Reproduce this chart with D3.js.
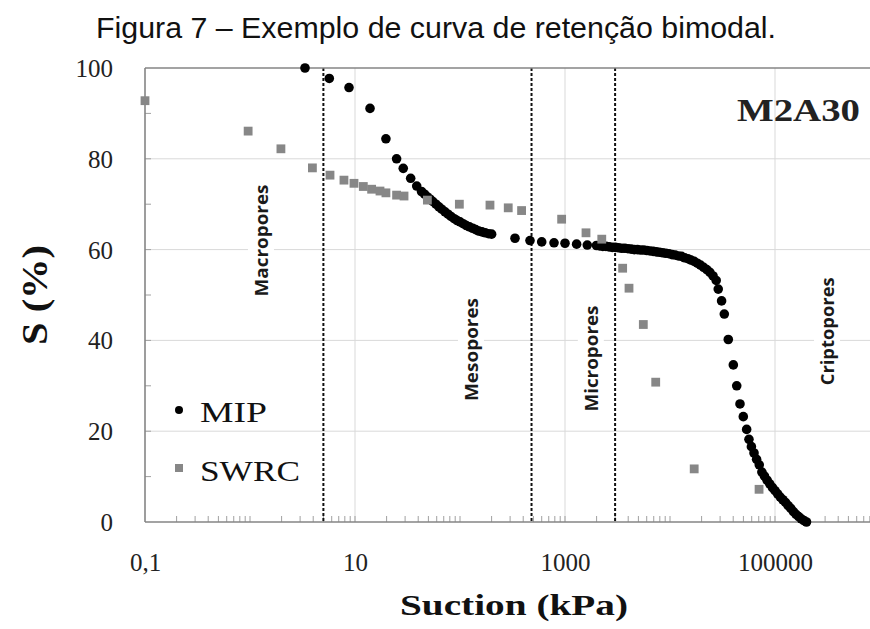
<!DOCTYPE html>
<html><head><meta charset="utf-8">
<script src="https://cdn.jsdelivr.net/npm/d3@7"></script>
<style>html,body{margin:0;padding:0;background:#fff;overflow:hidden}</style>
</head><body>
<svg id="chart" width="870" height="629"></svg>
<script>
// ---- data ----
const titleText = "Figura 7 – Exemplo de curva de retenção bimodal.";
const xTickValues = [0.1, 10, 1000, 100000];
const xTickLabels = ["0,1", "10", "1000", "100000"];
const yTickValues = [0, 20, 40, 60, 80, 100];
const poreLimits = [5, 480, 3000];
const poreNames = ["Macropores", "Mesopores", "Micropores", "Criptopores"];
const poreLabelAt = [[1.3, 62], [130, 38], [1800, 36], [320000, 42]];

const mipSuction = [3.34, 5.69, 8.77, 13.9, 19.7, 24.9, 28.8, 33.9, 38.7, 43, 46, 49, 52, 55, 59, 63, 67, 72, 77, 82, 88, 94, 100, 107, 115, 123, 132, 141, 151, 162, 174, 187, 200, 334, 464, 600, 786, 1000, 1290, 1630, 1995, 2138, 2291, 2455, 2630, 2818, 3020, 3236, 3467, 3715, 3981, 4266, 4571, 4898, 5248, 5623, 6026, 6457, 6918, 7413, 7943, 8511, 9120, 9772, 10471, 11220, 12023, 12882, 13804, 14791, 15849, 16982, 18197, 19498, 20893, 22387, 23988, 25704, 27542, 28800, 31000, 32900, 35900, 40100, 43200, 46400, 49900, 53700, 56500, 59600, 63100, 66800, 70800, 75000, 79400, 84100, 89100, 94400, 100000, 105900, 112200, 118900, 125900, 133400, 141300, 149600, 158500, 167900, 177800, 188400, 199500];
const mipS = [100, 97.7, 95.7, 91.1, 84.4, 80.0, 77.9, 75.7, 74.0, 72.8, 72.2, 71.6, 71.1, 70.6, 70.0, 69.4, 68.9, 68.3, 67.8, 67.3, 66.8, 66.4, 66.1, 65.7, 65.3, 65.0, 64.7, 64.4, 64.1, 63.9, 63.7, 63.5, 63.4, 62.5, 62.0, 61.7, 61.5, 61.4, 61.2, 61.0, 60.9, 60.8, 60.7, 60.7, 60.6, 60.5, 60.5, 60.4, 60.3, 60.3, 60.2, 60.1, 60.0, 60.0, 59.9, 59.9, 59.8, 59.7, 59.6, 59.5, 59.4, 59.3, 59.2, 59.1, 58.9, 58.8, 58.6, 58.5, 58.2, 58.0, 57.7, 57.4, 57.0, 56.6, 56.1, 55.6, 55.0, 54.2, 53.2, 51.3, 48.7, 45.8, 40.2, 34.6, 30.0, 26.0, 23.2, 20.4, 18.2, 16.6, 15.2, 13.8, 12.6, 11.0, 10.1, 9.2, 8.4, 7.6, 6.9, 6.2, 5.5, 4.9, 4.3, 3.6, 3.0, 2.3, 1.7, 1.2, 0.7, 0.3, 0.0];

const swrcSuction = [0.1, 0.96, 1.97, 3.93, 5.78, 7.85, 9.78, 12.0, 14.4, 17.3, 19.7, 24.9, 29.3, 48.9, 98.6, 193, 288, 386, 929, 1585, 2240, 3540, 4070, 5570, 7310, 17000, 70500];
const swrcS = [92.8, 86.1, 82.2, 78.0, 76.4, 75.3, 74.6, 73.9, 73.3, 72.9, 72.5, 72.0, 71.8, 70.9, 70.0, 69.8, 69.2, 68.6, 66.7, 63.7, 62.3, 55.9, 51.5, 43.5, 30.8, 11.7, 7.2];

// ---- chart ----
const svg = d3.select("#chart");
const L = 145, R = 880, T = 68, B = 522;
const x = d3.scaleLog().domain([0.1, 1e6]).range([L, R]);
const y = d3.scaleLinear().domain([0, 100]).range([B, T]);
const serif = "'Liberation Serif','Times New Roman',serif";
const axisCol = "#858585", gridCol = "#d9d9d9";

function fitText(sel, w) { sel.attr("textLength", w).attr("lengthAdjust", "spacingAndGlyphs"); return sel; }

// title
fitText(svg.append("text").attr("x", 436).attr("y", 38).attr("text-anchor", "middle")
  .attr("font-family", "'Liberation Sans',Arial,sans-serif").attr("font-size", 29).attr("fill", "#111")
  .text(titleText), 680);

const g = svg.append("g");
// horizontal grid
g.selectAll(".hg").data([20, 40, 60, 80]).join("line")
  .attr("x1", L).attr("x2", R).attr("y1", d => y(d)).attr("y2", d => y(d))
  .attr("stroke", gridCol).attr("stroke-width", 1);
// vertical grid
g.selectAll(".vg").data(xTickValues.slice(1)).join("line")
  .attr("x1", d => x(d)).attr("x2", d => x(d)).attr("y1", T).attr("y2", B)
  .attr("stroke", gridCol).attr("stroke-width", 1);

// pore labels with white background
poreNames.forEach((name, i) => {
  const cx = x(poreLabelAt[i][0]), cy = y(poreLabelAt[i][1]);
  const lg = g.append("g").attr("transform", `translate(${cx},${cy}) rotate(-90)`);
  lg.append("rect").attr("x", -66).attr("y", -14).attr("width", 132).attr("height", 26).attr("fill", "#fff");
  fitText(lg.append("text").attr("x", 0).attr("y", 6).attr("text-anchor", "middle")
    .attr("font-family", "'Open Sans',Lato,sans-serif").attr("font-weight", 700).attr("font-size", 17)
    .attr("fill", "#1a1a1a").text(name), [112, 103, 106, 108][i]);
});

// minor ticks x
const minorX = [];
for (let k = -1; k <= 5; k++) for (let m = 1; m <= 9; m++) minorX.push(m * Math.pow(10, k));
g.selectAll(".mx").data(minorX.filter(v => v > 0.1 && v < 1e6)).join("line")
  .attr("x1", d => x(d)).attr("x2", d => x(d)).attr("y1", B).attr("y2", B - 6)
  .attr("stroke", "#a0a0a0").attr("stroke-width", 1);
// minor ticks y
g.selectAll(".my").data(d3.range(10, 100, 10)).join("line")
  .attr("x1", L).attr("x2", L + 6).attr("y1", d => y(d)).attr("y2", d => y(d))
  .attr("stroke", "#a0a0a0").attr("stroke-width", 1);

// dashed limits
g.selectAll(".dl").data(poreLimits).join("line")
  .attr("x1", d => x(d)).attr("x2", d => x(d)).attr("y1", T).attr("y2", B)
  .attr("stroke", "#111").attr("stroke-width", 2).attr("stroke-dasharray", "3,2");

// axes lines (border)
g.append("line").attr("x1", L).attr("x2", R).attr("y1", B).attr("y2", B).attr("stroke", axisCol).attr("stroke-width", 1.6);
g.append("line").attr("x1", L).attr("x2", L).attr("y1", T).attr("y2", B).attr("stroke", axisCol).attr("stroke-width", 1.6);
g.append("line").attr("x1", L).attr("x2", R).attr("y1", T).attr("y2", T).attr("stroke", axisCol).attr("stroke-width", 1.4);

// axis labels via d3 axes
const yAxis = d3.axisLeft(y).tickValues(yTickValues).tickSize(0).tickPadding(0);
const ya = svg.append("g").attr("transform", `translate(113,0)`).call(yAxis);
ya.select(".domain").remove();
ya.selectAll("text").attr("font-family", serif).attr("font-size", 25).attr("fill", "#222").attr("dy", "0.34em");

const xAxis = d3.axisBottom(x).tickValues(xTickValues).tickFormat((d, i) => xTickLabels[i]).tickSize(0).tickPadding(0);
const xa = svg.append("g").attr("transform", `translate(0,553)`).call(xAxis);
xa.select(".domain").remove();
xa.selectAll("text").attr("font-family", serif).attr("font-size", 25).attr("fill", "#222").attr("dy", "0.71em");

// axis titles
fitText(svg.append("text").attr("transform", "translate(47,295) rotate(-90)").attr("text-anchor", "middle")
  .attr("font-family", serif).attr("font-weight", "bold").attr("font-size", 35).attr("fill", "#111").text("S (%)"), 100);
fitText(svg.append("text").attr("x", 514).attr("y", 615).attr("text-anchor", "middle")
  .attr("font-family", serif).attr("font-weight", "bold").attr("font-size", 30).attr("fill", "#111").text("Suction (kPa)"), 228);

// sample name
fitText(svg.append("text").attr("x", 737).attr("y", 121)
  .attr("font-family", serif).attr("font-weight", "bold").attr("font-size", 31).attr("fill", "#222").text("M2A30"), 123);

// data
const mip = d3.zip(mipSuction, mipS);
const swrc = d3.zip(swrcSuction, swrcS);
g.selectAll(".mip").data(mip).join("circle")
  .attr("cx", d => x(d[0])).attr("cy", d => y(d[1])).attr("r", 4.8).attr("fill", "#000");
g.selectAll(".swrc").data(swrc).join("rect")
  .attr("x", d => x(d[0]) - 4.4).attr("y", d => y(d[1]) - 4.4).attr("width", 8.8).attr("height", 8.8).attr("fill", "#878787");

// legend
const leg = svg.append("g");
leg.append("circle").attr("cx", 179).attr("cy", 410).attr("r", 4).attr("fill", "#000");
leg.append("rect").attr("x", 175).attr("y", 464).attr("width", 8).attr("height", 8).attr("fill", "#878787");
fitText(leg.append("text").attr("x", 200).attr("y", 422).attr("font-family", serif).attr("font-size", 30).attr("fill", "#111").text("MIP"), 67);
fitText(leg.append("text").attr("x", 200).attr("y", 481).attr("font-family", serif).attr("font-size", 30).attr("fill", "#111").text("SWRC"), 100);
</script>
</body></html>
